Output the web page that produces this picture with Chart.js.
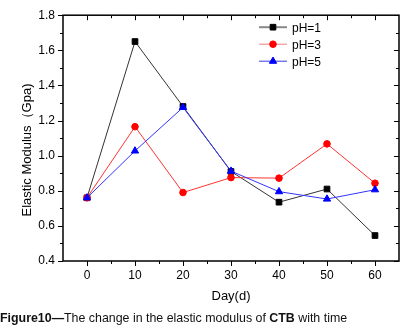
<!DOCTYPE html>
<html>
<head>
<meta charset="utf-8">
<script src="https://cdn.jsdelivr.net/npm/chart.js@4.4.0/dist/chart.umd.min.js"></script>
<style>
  html, body { margin: 0; padding: 0; background: #fff; }
  #wrap { position: relative; width: 407px; height: 335px; }
  #chart { position: absolute; left: 0; top: 0; }
  #caption {
    position: absolute; left: 0; top: 311px;
    font-family: "Liberation Sans", Arial, sans-serif;
    font-size: 12.4px; color: #111; white-space: nowrap;
  }
  #caption b { font-weight: bold; }
</style>
</head>
<body>
<div id="wrap">
  <canvas id="chart" width="407" height="335"></canvas>
  <div id="caption"><b>Figure10—</b>The change in the elastic modulus of <b>CTB</b> with time</div>
</div>
<script>
// data
const days = [0, 10, 20, 30, 40, 50, 60];
const ph1 = [0.76, 1.65, 1.28, 0.91, 0.735, 0.81, 0.545];
const ph3 = [0.76, 1.165, 0.79, 0.875, 0.872, 1.067, 0.843];
const ph5 = [0.76, 1.027, 1.275, 0.912, 0.795, 0.753, 0.806];
const seriesNames = ["pH=1", "pH=3", "pH=5"];

// axis ticks
const xTicks = [0, 10, 20, 30, 40, 50, 60];
const xMinor = [5, 15, 25, 35, 45, 55];
const yTicks = [0.4, 0.6, 0.8, 1.0, 1.2, 1.4, 1.6, 1.8];
const yMinor = [0.5, 0.7, 0.9, 1.1, 1.3, 1.5, 1.7];

const FONT = '"Liberation Sans", Arial, sans-serif';

function toPoints(ys) {
  return days.map((d, i) => ({ x: d, y: ys[i] }));
}

// frame, ticks, y title and the legend (Origin style)
const originStyle = {
  id: "originStyle",
  beforeDatasetsDraw(chart) {
    const ctx = chart.ctx;
    const a = chart.chartArea;
    const xs = chart.scales.x;
    const ys = chart.scales.y;
    ctx.save();
    ctx.strokeStyle = "#000";
    ctx.lineWidth = 1.5;
    ctx.strokeRect(a.left, a.top, a.right - a.left, a.bottom - a.top);

    ctx.lineWidth = 1;
    ctx.beginPath();
    xTicks.concat(xMinor).forEach((v) => {
      const px = Math.round(xs.getPixelForValue(v)) + 0.5;
      const len = xTicks.includes(v) ? 5 : 3;
      ctx.moveTo(px, a.bottom);
      ctx.lineTo(px, a.bottom + len);
      ctx.moveTo(px, a.top);
      ctx.lineTo(px, a.top + len);
    });
    yTicks.concat(yMinor).forEach((v) => {
      const py = Math.round(ys.getPixelForValue(v)) + 0.5;
      const len = yTicks.includes(v) ? 5 : 3;
      ctx.moveTo(a.left, py);
      ctx.lineTo(a.left - len, py);
      ctx.moveTo(a.right, py);
      ctx.lineTo(a.right - len, py);
    });
    ctx.stroke();
    ctx.restore();
  },
  afterDraw(chart) {
    const ctx = chart.ctx;
    const a = chart.chartArea;
    ctx.save();
    // y axis title
    ctx.translate(27, 150);
    ctx.rotate(-Math.PI / 2);
    ctx.fillStyle = "#000";
    ctx.font = "13px " + FONT;
    ctx.textAlign = "center";
    ctx.textBaseline = "middle";
    ctx.fillText("Elastic Modulus（Gpa)", 0, 0);
    ctx.restore();

    // legend
    ctx.save();
    const legendColors = ["#888", "#f08080", "#3a3ad8"];
    chart.data.datasets.forEach((ds, i) => {
      const y = a.top + 12 + i * 17;
      const x0 = 259, x1 = 287;
      ctx.strokeStyle = legendColors[i];
      ctx.lineWidth = i === 0 ? 2 : 1;
      ctx.beginPath();
      ctx.moveTo(x0, y);
      ctx.lineTo(x1, y);
      ctx.stroke();
      ctx.fillStyle = ds.pointBackgroundColor;
      ctx.strokeStyle = ds.pointBorderColor;
      ctx.lineWidth = 1;
      Chart.helpers.drawPoint(ctx, {
        pointStyle: ds.pointStyle,
        radius: ds.pointRadius,
        borderWidth: 1,
        rotation: 0
      }, (x0 + x1) / 2, y);
      ctx.fillStyle = "#000";
      ctx.font = "12px " + FONT;
      ctx.textAlign = "left";
      ctx.textBaseline = "middle";
      ctx.fillText(ds.label, 292, y + 1);
    });
    ctx.restore();
  }
};

const chart = new Chart(document.getElementById("chart"), {
  type: "line",
  data: {
    datasets: [
      {
        label: seriesNames[0],
        data: toPoints(ph1),
        borderColor: "#333",
        borderWidth: 1,
        pointStyle: "rect",
        pointRadius: 4,
        pointBackgroundColor: "#000",
        pointBorderColor: "#000",
        order: 3
      },
      {
        label: seriesNames[1],
        data: toPoints(ph3),
        borderColor: "#f33",
        borderWidth: 1,
        pointStyle: "circle",
        pointRadius: 3.3,
        pointBackgroundColor: "#f00",
        pointBorderColor: "#f00",
        order: 2
      },
      {
        label: seriesNames[2],
        data: toPoints(ph5),
        borderColor: "#33f",
        borderWidth: 1,
        pointStyle: "triangle",
        pointRadius: 4.2,
        pointBackgroundColor: "#00f",
        pointBorderColor: "#00f",
        order: 1
      }
    ]
  },
  options: {
    responsive: false,
    devicePixelRatio: 1,
    animation: false,
    layout: { padding: { left: 0, right: 8, top: 14, bottom: 0 } },
    plugins: {
      legend: { display: false },
      tooltip: { enabled: false }
    },
    scales: {
      x: {
        type: "linear",
        min: -5,
        max: 65,
        afterBuildTicks: (scale) => { scale.ticks = xTicks.map((v) => ({ value: v })); },
        afterFit: (scale) => { scale.height = 74; },
        grid: { display: false, drawTicks: false },
        border: { display: false },
        ticks: {
          padding: 7,
          color: "#000",
          font: { family: FONT, size: 12 },
          callback: (v) => String(v)
        },
        title: {
          display: true,
          text: "Day(d)",
          color: "#000",
          font: { family: FONT, size: 13 },
          padding: { top: 0, bottom: 31 }
        }
      },
      y: {
        type: "linear",
        min: 0.4,
        max: 1.8,
        afterBuildTicks: (scale) => { scale.ticks = yTicks.map((v) => ({ value: v })); },
        afterFit: (scale) => { scale.width = 63; },
        grid: { display: false, drawTicks: false },
        border: { display: false },
        ticks: {
          padding: 8,
          color: "#000",
          font: { family: FONT, size: 12 },
          callback: (v) => Number(v).toFixed(1)
        }
      }
    }
  },
  plugins: [originStyle]
});
</script>
</body>
</html>
